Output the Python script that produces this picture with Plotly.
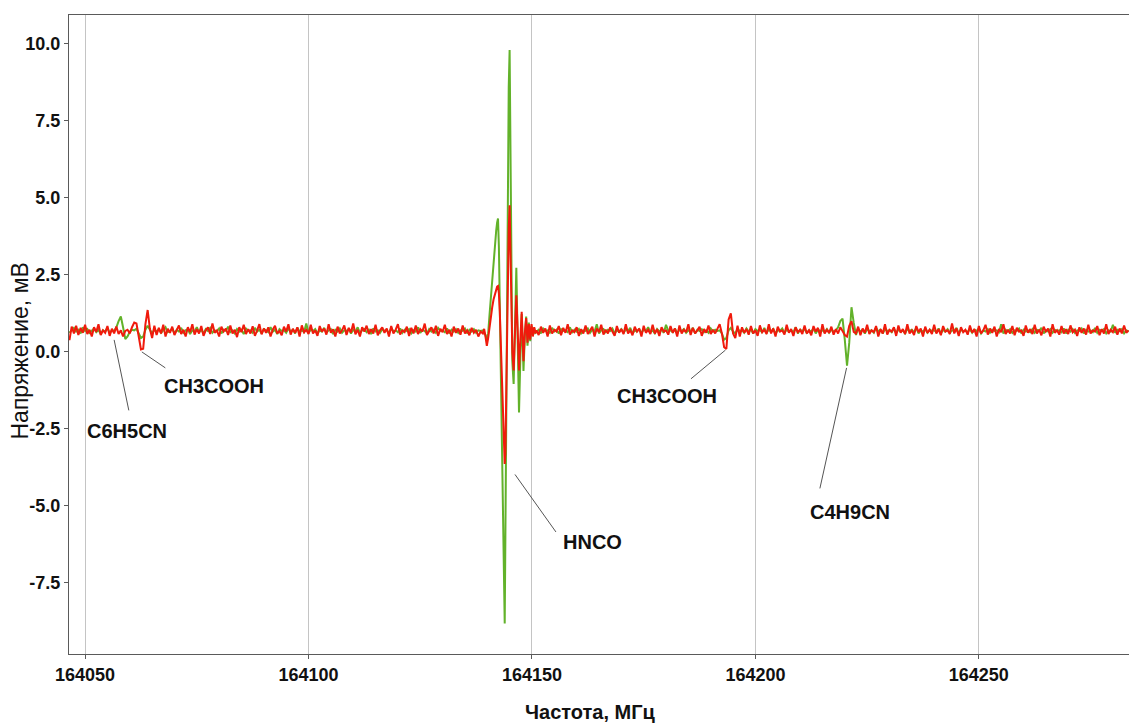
import numpy as np
import plotly.graph_objects as go

# ---------------- data ----------------
# left baseline segment: 164046.5 .. 164138.5 MHz, step 0.5
LEFT_START, STEP = 164046.5, 0.5
green_left = [
    0.62, 0.7, 0.78, 0.66, 0.72, 0.6, 0.8, 0.68, 0.74, 0.62, 0.7, 0.76, 0.64, 0.72, 0.58, 0.7, 0.66, 0.78, 0.62, 0.7,
    0.68, 0.8, 1.0, 1.15, 0.8, 0.42, 0.5, 0.65, 0.72, 0.7, 0.75, 0.62, 0.45, 0.5, 0.72, 0.85, 0.7, 0.6, 0.72, 0.66,
    0.74, 0.62, 0.7, 0.8, 0.64, 0.68, 0.76, 0.6, 0.72, 0.66, 0.78, 0.62, 0.7, 0.74, 0.58, 0.7, 0.66, 0.8, 0.64, 0.72,
    0.6, 0.74, 0.68, 0.78, 0.62, 0.7, 0.66, 0.76, 0.6, 0.72, 0.68, 0.82, 0.64, 0.7, 0.6, 0.74, 0.66, 0.72, 0.58, 0.76,
    0.68, 0.7, 0.62, 0.78, 0.66, 0.72, 0.6, 0.74, 0.7, 0.64, 0.8, 0.66, 0.72, 0.58, 0.74, 0.68, 0.7, 0.62, 0.76, 0.66,
    0.72, 0.6, 0.78, 0.66, 0.7, 0.64, 0.92, 0.62, 0.72, 0.68, 0.74, 0.6, 0.7, 0.66, 0.78, 0.62, 0.7, 0.74, 0.58, 0.72,
    0.66, 0.76, 0.62, 0.7, 0.68, 0.74, 0.6, 0.72, 0.66, 0.8, 0.62, 0.7, 0.74, 0.64, 0.72, 0.58, 0.76, 0.66, 0.7, 0.62,
    0.74, 0.68, 0.72, 0.6, 0.78, 0.66, 0.7, 0.64, 0.76, 0.62, 0.72, 0.68, 0.74, 0.6, 0.7, 0.66, 0.8, 0.62, 0.72, 0.68,
    0.6, 0.74, 0.66, 0.72, 0.62, 0.78, 0.68, 0.7, 0.64, 0.76, 0.6, 0.72, 0.66, 0.74, 0.62, 0.7, 0.68, 0.76, 0.6, 0.72,
    0.66, 0.74, 0.62, 0.7, 0.68,
]
red_left = [
    0.38, 0.82, 0.6, 0.85, 0.55, 0.78, 0.62, 0.88, 0.58, 0.72, 0.5, 0.8, 0.65, 0.9, 0.55, 0.7, 0.62, 0.84, 0.52, 0.75,
    0.6, 0.82, 0.58, 0.7, 0.5, 0.68, 0.72, 0.6, 0.8, 0.95, 0.92, 0.55, 0.08, 0.1, 0.9, 1.36, 0.75, 0.45, 0.85, 0.55,
    0.78, 0.6, 0.88, 0.5, 0.75, 0.62, 0.82, 0.55, 0.7, 0.86, 0.58, 0.72, 0.5, 0.8, 0.64, 0.9, 0.56, 0.74, 0.6, 0.84,
    0.52, 0.7, 0.8, 0.58, 0.92, 0.62, 0.7, 0.5, 0.82, 0.66, 0.76, 0.55, 0.86, 0.6, 0.72, 0.48, 0.8, 0.64, 0.88, 0.58,
    0.74, 0.6, 0.83, 0.52, 0.7, 0.9, 0.57, 0.76, 0.62, 0.8, 0.5, 0.72, 0.85, 0.6, 0.68, 0.54, 0.82, 0.66, 0.9, 0.56,
    0.75, 0.62, 0.8, 0.5, 0.86, 0.64, 0.72, 0.58, 0.88, 0.6, 0.7, 0.52, 0.84, 0.66, 0.76, 0.56, 0.9, 0.62, 0.73, 0.5,
    0.82, 0.6, 0.7, 0.86, 0.55, 0.78, 0.63, 0.92, 0.57, 0.72, 0.5, 0.8, 0.66, 0.85, 0.58, 0.74, 0.6, 0.88, 0.54, 0.7,
    0.8, 0.62, 0.76, 0.5, 0.84, 0.6, 0.72, 0.9, 0.56, 0.7, 0.64, 0.82, 0.52, 0.78, 0.6, 0.86, 0.58, 0.74, 0.66, 0.92,
    0.55, 0.7, 0.8, 0.6, 0.85, 0.52, 0.75, 0.64, 0.88, 0.58, 0.72, 0.5, 0.82, 0.62, 0.76, 0.56, 0.86, 0.6, 0.7, 0.54,
    0.78, 0.62, 0.72, 0.5, 0.66,
]

# HNCO region (fine sampling)
hnco_freq = [
    164139.0, 164139.3, 164139.6, 164139.9, 164140.2, 164140.5, 164140.8, 164141.1, 164141.4, 164141.7,
    164142.0, 164142.2, 164142.4, 164142.6, 164142.8, 164143.0, 164143.2, 164143.4, 164143.6, 164143.75,
    164143.9, 164144.05, 164144.2, 164144.4, 164144.6, 164144.8, 164145.0, 164145.2, 164145.4, 164145.6,
    164145.9, 164146.2, 164146.5, 164146.8, 164147.1, 164147.4, 164147.7, 164147.9, 164148.1, 164148.4,
    164148.7, 164149.0, 164149.3, 164149.6, 164149.9, 164150.2, 164150.5, 164150.75,
]
green_hnco = [
    0.7, 0.62, 0.55, 0.35, 0.6, 1.2, 1.8, 2.4, 3.0, 3.5,
    3.95, 4.2, 4.33, 3.4, 1.6, -0.5, -2.6, -4.8, -6.9, -8.2,
    -8.82, -6.0, -2.5, 1.5, 5.5, 8.6, 9.8, 6.0, 2.0, -0.3,
    -1.04, 1.0, 2.73, 0.4, -1.97, -0.2, 1.23, 0.4, -0.62, 0.5,
    1.15, 0.2, 0.95, 0.35, 0.85, 0.55, 0.78, 0.62,
]
red_hnco = [
    0.6, 0.75, 0.5, 0.2, 0.45, 0.85, 1.15, 1.45, 1.7, 1.9,
    2.05, 2.12, 2.14, 1.9, 1.3, 0.4, -0.6, -1.6, -2.6, -3.2,
    -3.64, -3.3, -1.5, 0.8, 2.6, 4.0, 4.76, 3.5, 1.5, 0.0,
    -0.6, 0.8, 1.84, 0.7, -0.6, 0.4, 1.3, 0.5, -0.3, 0.6,
    1.1, 0.3, 0.9, 0.4, 0.9, 0.5, 0.8, 0.6,
]

# right baseline segment: 164151.0 .. 164283.5 MHz, step 0.5
RIGHT_START = 164151.0
green_right = [
    0.66, 0.72, 0.6, 0.76, 0.68, 0.7, 0.62, 0.78, 0.66, 0.72, 0.6, 0.74, 0.68, 0.7, 0.64, 0.8, 0.62, 0.72, 0.66, 0.74,
    0.6, 0.7, 0.68, 0.76, 0.62, 0.72, 0.66, 0.9, 0.6, 0.7, 0.74, 0.64, 0.72, 0.68, 0.76, 0.6, 0.7, 0.66, 0.74, 0.62,
    0.72, 0.68, 0.78, 0.6, 0.7, 0.66, 0.74, 0.62, 0.72, 0.68, 0.8, 0.64, 0.7, 0.6, 0.74, 0.66, 0.72, 0.62, 0.88, 0.68,
    0.7, 0.64, 0.76, 0.6, 0.72, 0.68, 0.74, 0.62, 0.7, 0.66, 0.78, 0.6, 0.72, 0.68, 0.74, 0.64, 0.7, 0.62, 0.76, 0.66,
    0.72, 0.68, 0.7, 0.6, 0.4, 0.45, 0.7, 0.78, 0.66, 0.6, 0.74, 0.68, 0.7, 0.62, 0.76, 0.66, 0.72, 0.6, 0.74, 0.68,
    0.7, 0.64, 0.78, 0.62, 0.72, 0.66, 0.74, 0.6, 0.7, 0.68, 0.76, 0.62, 0.72, 0.66, 0.7, 0.64, 0.8, 0.6, 0.72, 0.68,
    0.74, 0.62, 0.7, 0.66, 0.76, 0.6, 0.72, 0.68, 0.7, 0.64, 0.74, 0.62, 0.72, 0.66, 0.7, 0.8, 1.0, 1.08, 0.4, -0.45,
    0.3, 1.45, 0.95, 0.55, 0.75, 0.66, 0.72, 0.6, 0.74, 0.68, 0.7, 0.62, 0.78, 0.66, 0.72, 0.6, 0.74, 0.68, 0.7, 0.64,
    0.76, 0.62, 0.72, 0.66, 0.7, 0.6, 0.74, 0.68, 0.72, 0.64, 0.78, 0.6, 0.7, 0.66, 0.74, 0.62, 0.72, 0.68, 0.7, 0.64,
    0.76, 0.6, 0.72, 0.66, 0.74, 0.62, 0.7, 0.68, 0.78, 0.6, 0.72, 0.66, 0.7, 0.64, 0.74, 0.62, 0.72, 0.68, 0.76, 0.6,
    0.7, 0.66, 0.74, 0.62, 0.72, 0.68, 0.7, 0.64, 0.9, 0.6, 0.72, 0.66, 0.74, 0.62, 0.7, 0.68, 0.76, 0.6, 0.72, 0.66,
    0.7, 0.64, 0.74, 0.62, 0.72, 0.68, 0.78, 0.6, 0.7, 0.66, 0.74, 0.62, 0.72, 0.68, 0.7, 0.64, 0.76, 0.6, 0.72, 0.66,
    0.74, 0.62, 0.7, 0.68, 0.76, 0.6, 0.72, 0.66, 0.7, 0.64, 0.78, 0.62, 0.72, 0.68, 0.74, 0.6, 0.7, 0.66, 0.88, 0.62,
    0.72, 0.68, 0.74, 0.6, 0.7, 0.66,
]
red_right = [
    0.7, 0.55, 0.82, 0.62, 0.76, 0.5, 0.86, 0.6, 0.72, 0.66, 0.84, 0.54, 0.78, 0.62, 0.9, 0.56, 0.7, 0.64, 0.8, 0.52,
    0.74, 0.6, 0.86, 0.58, 0.7, 0.82, 0.5, 0.76, 0.64, 0.88, 0.56, 0.72, 0.6, 0.8, 0.66, 0.52, 0.84, 0.62, 0.74, 0.58,
    0.9, 0.6, 0.7, 0.54, 0.82, 0.66, 0.76, 0.5, 0.85, 0.62, 0.72, 0.58, 0.88, 0.6, 0.74, 0.52, 0.8, 0.66, 0.7, 0.56,
    0.84, 0.62, 0.76, 0.5, 0.86, 0.6, 0.72, 0.64, 0.9, 0.55, 0.78, 0.6, 0.7, 0.82, 0.52, 0.74, 0.62, 0.86, 0.58, 0.72,
    0.6, 0.75, 0.9, 0.6, 0.15, 0.1, 1.05, 1.25, 0.6, 0.45, 0.85, 0.5, 0.8, 0.62, 0.74, 0.56, 0.84, 0.6, 0.7, 0.52,
    0.86, 0.64, 0.72, 0.58, 0.9, 0.6, 0.76, 0.5, 0.82, 0.66, 0.7, 0.56, 0.88, 0.62, 0.74, 0.52, 0.8, 0.64, 0.72, 0.58,
    0.86, 0.6, 0.7, 0.54, 0.84, 0.66, 0.78, 0.5, 0.9, 0.6, 0.72, 0.62, 0.82, 0.56, 0.74, 0.6, 0.8, 0.68, 0.55, 0.5,
    0.85, 1.0, 0.65, 0.6, 0.82, 0.54, 0.76, 0.62, 0.88, 0.58, 0.7, 0.64, 0.84, 0.5, 0.74, 0.6, 0.9, 0.56, 0.72, 0.66,
    0.8, 0.52, 0.86, 0.62, 0.74, 0.58, 0.9, 0.6, 0.7, 0.55, 0.84, 0.64, 0.76, 0.5, 0.82, 0.62, 0.72, 0.58, 0.88, 0.6,
    0.74, 0.54, 0.84, 0.66, 0.7, 0.58, 0.92, 0.6, 0.76, 0.52, 0.8, 0.64, 0.72, 0.56, 0.86, 0.62, 0.74, 0.5, 0.84, 0.6,
    0.7, 0.88, 0.56, 0.76, 0.62, 0.82, 0.5, 0.74, 0.64, 0.9, 0.58, 0.72, 0.6, 0.84, 0.54, 0.78, 0.66, 0.7, 0.52, 0.86,
    0.62, 0.74, 0.58, 0.88, 0.6, 0.72, 0.54, 0.82, 0.66, 0.76, 0.5, 0.9, 0.62, 0.7, 0.56, 0.84, 0.6, 0.74, 0.58, 0.86,
    0.64, 0.72, 0.52, 0.8, 0.62, 0.76, 0.56, 0.88, 0.6, 0.7, 0.66, 0.84, 0.54, 0.74, 0.6, 0.9, 0.58, 0.72, 0.64, 0.82,
    0.56, 0.76, 0.6, 0.86, 0.62, 0.7,
]

# axis ticks
x_ticks = [164050, 164100, 164150, 164200, 164250]
y_ticks = [-7.5, -5.0, -2.5, 0.0, 2.5, 5.0, 7.5, 10.0]
y_tick_text = ["-7.5", "-5.0", "-2.5", "0.0", "2.5", "5.0", "7.5", "10.0"]

# line labels: name, frequency, voltage of the pointed feature
label_names = ["C6H5CN", "CH3COOH", "CH3COOH", "C4H9CN", "HNCO"]
label_freq = [164056.5, 164062.7, 164193.3, 164220.4, 164146.2]
label_volt = [0.39, 0.0, 0.06, -0.52, -3.98]

# ---------------- assemble ----------------
freq_left = LEFT_START + STEP * np.arange(len(green_left))
freq_right = RIGHT_START + STEP * np.arange(len(green_right))
freq = np.concatenate([freq_left, np.array(hnco_freq), freq_right])
green = np.concatenate([green_left, green_hnco, green_right])
red = np.concatenate([red_left, red_hnco, red_right])

fig = go.Figure()
fig.add_trace(go.Scatter(x=freq, y=green, mode="lines",
                         line=dict(color="#62b22a", width=2), showlegend=False))
fig.add_trace(go.Scatter(x=freq, y=red, mode="lines",
                         line=dict(color="#f01a0c", width=2), showlegend=False))

# leader lines (tail offsets in px) and text offsets
line_ax = [15, 25, -36, -27, 42]
line_ay = [72, 17, 30, 122, 59]
text_dx = [13, 72, -58, 3, 78]
text_dy = [-91, -34, -46, -144, -68]

annotations = []
for name, fx, vy, ax, ay, dx, dy in zip(label_names, label_freq, label_volt,
                                        line_ax, line_ay, text_dx, text_dy):
    annotations.append(dict(x=fx, y=vy, xref="x", yref="y", text="",
                            showarrow=True, arrowhead=0, arrowwidth=1,
                            arrowcolor="#555555", ax=ax, ay=ay, standoff=0))
    annotations.append(dict(x=fx, y=vy, xref="x", yref="y", text=name,
                            showarrow=False, xshift=dx, yshift=dy,
                            xanchor="center", yanchor="middle",
                            font=dict(family="Liberation Sans, Arial", size=20,
                                      color="#111111", weight="bold")))

# axis titles
annotations.append(dict(x=0, y=0.5, xref="paper", yref="paper", xanchor="center",
                        yanchor="middle", xshift=-50, yshift=-17, textangle=-90,
                        text="Напряжение, мВ", showarrow=False,
                        font=dict(family="Liberation Sans, Arial", size=23, color="#111111")))
annotations.append(dict(x=0.5, y=0, xref="paper", yref="paper", xanchor="center",
                        yanchor="middle", xshift=-9, yshift=-58,
                        text="Частота, МГц", showarrow=False,
                        font=dict(family="Liberation Sans, Arial", size=20, color="#111111",
                                  weight="bold")))

tick_font = dict(family="Liberation Sans, Arial", size=18, color="#111111", weight="bold")

fig.update_layout(
    width=1129, height=724,
    margin=dict(l=69, r=0, t=15, b=70, autoexpand=False),
    paper_bgcolor="white", plot_bgcolor="white",
    annotations=annotations,
    xaxis=dict(range=[164046.4, 164283.6], tickmode="array", tickvals=x_ticks,
               ticktext=[str(v) for v in x_ticks],
               showgrid=True, gridcolor="#c4c4c4", gridwidth=1,
               showline=True, linecolor="#5a5a5a", linewidth=1, mirror=True,
               ticks="outside", ticklen=4, tickcolor="#5a5a5a",
               zeroline=False, tickfont=tick_font),
    yaxis=dict(range=[-9.81, 10.94], tickmode="array", tickvals=y_ticks,
               ticktext=y_tick_text, showgrid=False,
               showline=True, linecolor="#5a5a5a", linewidth=1,
               ticks="outside", ticklen=4, tickcolor="#5a5a5a",
               zeroline=False, tickfont=tick_font),
)

fig.write_html("out.html", config={"displayModeBar": False},
               post_script="document.body.style.margin='0';document.body.style.overflow='hidden';")
